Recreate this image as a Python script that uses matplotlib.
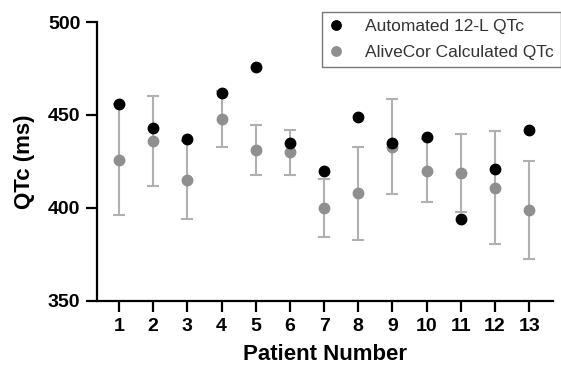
import matplotlib
matplotlib.use("Agg")
import matplotlib.pyplot as plt

patients = [1, 2, 3, 4, 5, 6, 7, 8, 9, 10, 11, 12, 13]
automated_qtc = [456, 443, 437, 462, 476, 435, 420, 449, 435, 438, 394, 421, 442]
alivecor_qtc = [426, 436, 415, 448, 431, 430, 400, 408, 433, 420, 419, 411, 399]
alivecor_err = [30, 24, 21, 15, 13.5, 12, 15.5, 25, 25.5, 17, 21, 30.5, 26.5]
yticks = [350, 400, 450, 500]

plt.rcParams['font.family'] = ['Liberation Sans', 'DejaVu Sans']

fig = plt.figure(figsize=(5.61, 3.71), dpi=100)
ax = fig.add_axes([0.173, 0.1887, 0.813, 0.752])

ax.errorbar(patients, alivecor_qtc, yerr=alivecor_err, fmt='none',
            ecolor='#b0b0b0', elinewidth=1.5, capsize=4.5, capthick=1.5, zorder=1)
ax.plot(patients, alivecor_qtc, 'o', color='#8f8f8f', markersize=7.5,
        label='AliveCor Calculated QTc', zorder=2)
ax.plot(patients, automated_qtc, 'o', color='#000000', markersize=7.5,
        label='Automated 12-L QTc', zorder=3)

ax.set_ylim(350, 500)
ax.set_xlim(0.36, 13.7)
ax.set_yticks(yticks)
ax.set_xticks(patients)
for s in ['top', 'right']:
    ax.spines[s].set_visible(False)
for s in ['left', 'bottom']:
    ax.spines[s].set_linewidth(1.6)
ax.tick_params(width=1.6, length=8, labelsize=14, pad=4)
for lab in ax.get_xticklabels() + ax.get_yticklabels():
    lab.set_fontweight('bold')
ax.set_xlabel('Patient Number', fontsize=16, fontweight='bold', labelpad=7)
ax.set_ylabel('QTc (ms)', fontsize=16, fontweight='bold', labelpad=9)

handles, labels = ax.get_legend_handles_labels()
leg = ax.legend(handles[::-1], labels[::-1], loc='upper right',
                bbox_to_anchor=(1.0, 1 - 12 / 371), bbox_transform=fig.transFigure,
                borderaxespad=0, fontsize=12.5, frameon=True,
                fancybox=False, edgecolor='#555555', handletextpad=1.3,
                borderpad=0.4, labelspacing=0.6, markerscale=0.9,
                handlelength=0.8)
leg.get_frame().set_linewidth(1.0)
for t in leg.get_texts():
    t.set_color('#333333')

fig.savefig('out.png', dpi=100)
